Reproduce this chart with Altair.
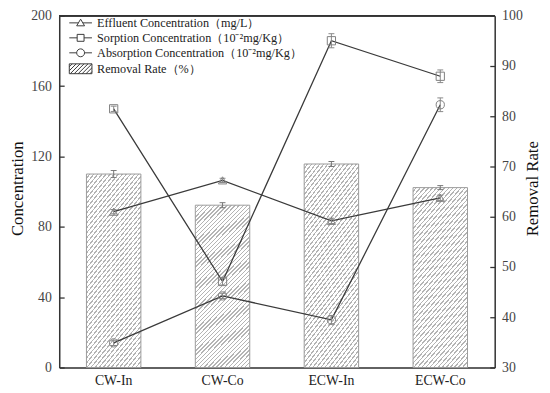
import altair as alt
import pandas as pd

# ---------------- data ----------------
categories = ["CW-In", "CW-Co", "ECW-In", "ECW-Co"]
removal_rate = [68.5, 62.3, 70.5, 65.8]
removal_err = [0.7, 0.5, 0.5, 0.4]
effluent = [88.6, 106.4, 83.4, 96.5]
effluent_err = [1.2, 1.2, 1.5, 1.5]
sorption = [147.1, 48.9, 185.8, 165.6]
sorption_err = [1.5, 2.0, 4.0, 3.6]
absorption = [14.0, 40.7, 27.1, 149.4]
absorption_err = [1.5, 1.5, 2.5, 3.9]

series_names = [
    "Effluent Concentration（mg/L）",
    "Sorption Concentration（10⁻²mg/Kg）",
    "Absorption Concentration（10⁻²mg/Kg）",
]
bar_name = "Removal Rate（%）"
left_ticks = [0, 40, 80, 120, 160, 200]
right_ticks = [30, 40, 50, 60, 70, 80, 90, 100]

# ---------------- tables ----------------
bar_df = pd.DataFrame({
    "category": categories,
    "rate": removal_rate,
    "rlo": [v - e for v, e in zip(removal_rate, removal_err)],
    "rhi": [v + e for v, e in zip(removal_rate, removal_err)],
})

rows = []
for name, vals, errs in zip(series_names,
                            [effluent, sorption, absorption],
                            [effluent_err, sorption_err, absorption_err]):
    for c, v, e in zip(categories, vals, errs):
        rows.append({"category": c, "series": name, "value": v,
                     "lo": v - e, "hi": v + e})
line_df = pd.DataFrame(rows)

FONT = "Liberation Serif"

# ---------------- hatch fill (style) ----------------
N = 52
stops = []
for k in range(N):
    a, b, c = k / N, (k + 0.66) / N, (k + 1) / N
    stops += [
        alt.GradientStop(color="white", offset=round(a, 5)),
        alt.GradientStop(color="white", offset=round(b, 5)),
        alt.GradientStop(color="#b4b4b4", offset=round(b, 5)),
        alt.GradientStop(color="#b4b4b4", offset=round(c, 5)),
    ]
hatch = alt.LinearGradient(gradient="linear", stops=stops,
                           x1=0, y1=0, x2=0.414, y2=1.2)

# ---------------- legend symbols (style) ----------------
def seg(x0, x1):
    return f"M{x0},0H{x1}"

W = 2.3
tri_path = seg(-W, -0.45) + seg(0.45, W) + "M-0.8,0.6L0,-0.75L0.8,0.6Z"
sq_path = seg(-W, -0.7) + seg(0.7, W) + "M-0.7,-0.7H0.7V0.7H-0.7Z"
ci_path = seg(-W, -0.8) + seg(0.8, W) + "M-0.8,0A0.8,0.8 0 1,0 0.8,0A0.8,0.8 0 1,0 -0.8,0"
hp = f"M-{W},-1H{W}V1H-{W}Z"
a = -W - 2 + 0.6
while a < W:
    t0 = max(0.0, (-W - a) / 2)
    t1 = min(1.0, (W - a) / 2)
    if t1 > t0 + 0.02:
        hp += f"M{a + 2 * t0:.3f},{1 - 2 * t0:.3f}L{a + 2 * t1:.3f},{1 - 2 * t1:.3f}"
    a += 0.8

shape_expr = (
    f"datum.value === '{series_names[0]}' ? '{tri_path}' : "
    f"datum.value === '{series_names[1]}' ? '{sq_path}' : "
    f"datum.value === '{series_names[2]}' ? '{ci_path}' : '{hp}'"
)

# ---------------- encodings ----------------
x_enc = alt.X(
    "category:N", sort=categories,
    scale=alt.Scale(paddingInner=0.5, paddingOuter=0.25),
    axis=alt.Axis(title=None, labelAngle=0, ticks=False, grid=False,
                  domainColor="#333", domainWidth=1.5,
                  labelFont=FONT, labelFontSize=14, labelColor="#222",
                  labelPadding=6),
)

left_scale = alt.Scale(domain=[0, 200], nice=False, zero=False)
right_scale = alt.Scale(domain=[30, 100], nice=False, zero=False)

left_axis = alt.Axis(
    title="Concentration", orient="left", values=left_ticks,
    ticks=False, grid=True, gridDash=[5, 1000], gridColor="#333", gridWidth=1.3,
    domainColor="#333", domainWidth=1.5,
    labelFont=FONT, labelFontSize=14, labelColor="#444", labelPadding=8,
    titleFont=FONT, titleFontSize=17, titleFontWeight="normal", titleColor="#111",
    titleAngle=270, titleBaseline="alphabetic", titleX=-37, titleY=175,
)
right_axis = alt.Axis(
    title="Removal Rate", orient="right", values=right_ticks,
    ticks=False, grid=True, gridDash=[5, 1000], gridColor="#333", gridWidth=1.3,
    domainColor="#333", domainWidth=1.5,
    labelFont=FONT, labelFontSize=14, labelColor="#444", labelPadding=7,
    titleFont=FONT, titleFontSize=17, titleFontWeight="normal", titleColor="#111",
    titleAngle=270, titleBaseline="alphabetic", titleX=43, titleY=175,
)

# ---------------- right (bars) ----------------
bars = alt.Chart(bar_df).mark_bar(fill=hatch, stroke="#9a9a9a", strokeWidth=1).encode(
    x=x_enc,
    y=alt.Y("rate:Q", scale=right_scale, axis=right_axis),
    y2=alt.datum(30),
)
bar_err = alt.Chart(bar_df).mark_rule(color="#777", strokeWidth=1).encode(
    x=x_enc, y=alt.Y("rlo:Q", scale=right_scale, axis=right_axis), y2="rhi:Q")
bar_cap_lo = alt.Chart(bar_df).mark_tick(color="#777", size=6, thickness=1, opacity=1).encode(
    x=x_enc, y=alt.Y("rlo:Q", scale=right_scale, axis=right_axis))
bar_cap_hi = alt.Chart(bar_df).mark_tick(color="#777", size=6, thickness=1, opacity=1).encode(
    x=x_enc, y=alt.Y("rhi:Q", scale=right_scale, axis=right_axis))
# top frame line of the plot box
top_frame = alt.Chart(bar_df).mark_rule(color="#333", strokeWidth=1.5).encode(
    y=alt.value(0))
right_layer = alt.layer(bars, bar_err, bar_cap_lo, bar_cap_hi, top_frame)

# ---------------- left (lines) ----------------
lines = alt.Chart(line_df).mark_line(strokeWidth=1.3).encode(
    x=x_enc,
    y=alt.Y("value:Q", scale=left_scale, axis=left_axis),
    color=alt.Color(
        "series:N",
        scale=alt.Scale(domain=series_names + [bar_name], range=["#3a3a3a"] * 4),
        legend=alt.Legend(
            title=None, orient="none", legendX=15.5, legendY=1,
            padding=0, symbolSize=100, labelOffset=10.5, rowPadding=2.2,
            symbolType=alt.ExprRef(expr=shape_expr),
            symbolStrokeWidth=1, symbolFillColor="white",
            labelFont=FONT, labelFontSize=12.4, labelColor="#222", labelLimit=400,
        ),
    ),
)
pt_err = alt.Chart(line_df).mark_rule(color="#888", strokeWidth=1).encode(
    x=x_enc, y=alt.Y("lo:Q", scale=left_scale, axis=left_axis), y2="hi:Q")
pt_cap_lo = alt.Chart(line_df).mark_tick(color="#888", size=6, thickness=1, opacity=1).encode(
    x=x_enc, y=alt.Y("lo:Q", scale=left_scale, axis=left_axis))
pt_cap_hi = alt.Chart(line_df).mark_tick(color="#888", size=6, thickness=1, opacity=1).encode(
    x=x_enc, y=alt.Y("hi:Q", scale=left_scale, axis=left_axis))
points = alt.Chart(line_df).mark_point(filled=False, size=70, strokeWidth=1,
                                       color="#808080", opacity=1).encode(
    x=x_enc,
    y=alt.Y("value:Q", scale=left_scale, axis=left_axis),
    shape=alt.Shape(
        "series:N",
        scale=alt.Scale(domain=series_names,
                        range=["triangle-up", "square", "circle"]),
        legend=None,
    ),
)
left_layer = alt.layer(lines, pt_err, pt_cap_lo, pt_cap_hi, points)

chart = (
    alt.layer(right_layer, left_layer)
    .resolve_scale(y="independent")
    .properties(width=442, height=357, autosize="none",
                padding={"left": 52, "top": 5, "right": 48, "bottom": 23})
    .configure_view(stroke="#333", strokeWidth=1.5)
    .configure(background="white")
)

chart.save("out.html", embed_options={"renderer": "svg", "actions": False})
